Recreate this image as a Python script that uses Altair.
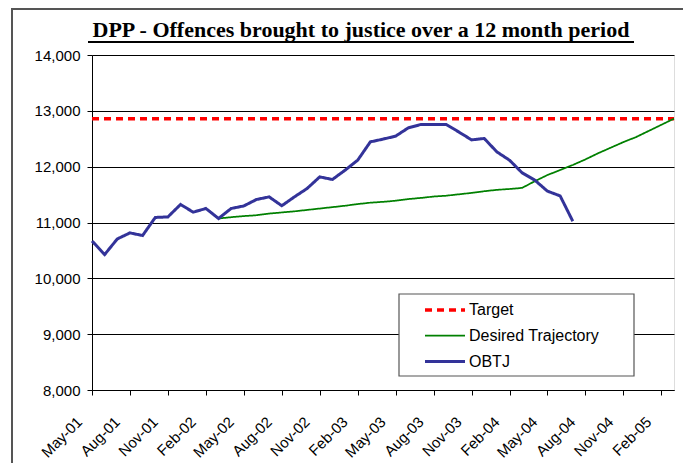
import altair as alt
import pandas as pd

# Categories: monthly periods (12-month rolling) from May-01 to Mar-05
months = list(pd.date_range("2001-05-01", periods=47, freq="MS").strftime("%b-%y"))
tick_labels = months[::3]
y_ticks = [8000, 9000, 10000, 11000, 12000, 13000, 14000]

series_order = ["Target", "Desired Trajectory", "OBTJ"]
series_colors = ["#FF0000", "#008000", "#333399"]

title_text = "DPP - Offences brought to justice over a 12 month period"

target_value = 12860

obtj = [10670, 10426, 10706, 10814, 10767, 11090, 11100, 11323, 11185, 11251,
        11072, 11251, 11297, 11412, 11459, 11300, 11459, 11609, 11817, 11770,
        11937, 12116, 12444, 12493, 12547, 12695, 12756, 12756, 12756, 12620,
        12480, 12505, 12265, 12116, 11889, 11758, 11561, 11477, 11023]

desired_start = 10  # Mar-02
desired = [11072, 11095, 11115, 11130, 11160, 11180, 11200, 11225, 11250, 11275,
           11300, 11330, 11355, 11370, 11390, 11420, 11440, 11465, 11480, 11505,
           11530, 11560, 11585, 11600, 11620, 11740, 11850, 11940, 12030, 12130,
           12240, 12340, 12440, 12530, 12640, 12750, 12860]

rows = []
for m in months:
    rows.append({"month": m, "series": "Target", "value": target_value})
for i, v in enumerate(desired):
    rows.append({"month": months[desired_start + i], "series": "Desired Trajectory", "value": v})
for i, v in enumerate(obtj):
    rows.append({"month": months[i], "series": "OBTJ", "value": v})
df = pd.DataFrame(rows)

legend = alt.Legend(
    title=None, orient="none", legendX=331, legendY=243,
    padding=0, rowPadding=6.5, symbolType="M-2,0L2,0", symbolSize=400,
    symbolOffset=10, labelOffset=12, labelFont="Liberation Sans",
    labelFontSize=16, labelColor="black",
)

lines = alt.Chart(df).mark_line().encode(
    x=alt.X("month:O", sort=months,
            scale=alt.Scale(type="point", padding=0, domain=months),
            axis=alt.Axis(values=tick_labels, labelAngle=-45, labelAlign="right",
                          labelBaseline="middle", labelPadding=24, labelOffset=-13,
                          tickSize=5, tickColor="black", domainColor="black",
                          labelColor="black", labelFont="Liberation Sans",
                          labelFontSize=15, grid=False),
            title=None),
    y=alt.Y("value:Q",
            scale=alt.Scale(domain=[8000, 14000], nice=False, zero=False),
            axis=alt.Axis(values=y_ticks, format=",.0f", grid=True,
                          gridColor="black", gridWidth=1, gridOpacity=1,
                          tickSize=5, tickColor="black", domainColor="black",
                          labelColor="black", labelFont="Liberation Sans",
                          labelFontSize=15, labelPadding=7),
            title=None),
    color=alt.Color("series:N",
                    scale=alt.Scale(domain=series_order, range=series_colors),
                    legend=legend),
    strokeDash=alt.StrokeDash("series:N",
                              scale=alt.Scale(domain=series_order, range=[[7, 5], [1, 0], [1, 0]]),
                              legend=legend),
    strokeWidth=alt.StrokeWidth("series:N",
                                scale=alt.Scale(type="ordinal", domain=series_order, range=[3.5, 1.75, 3]),
                                legend=legend),
)

one = alt.Data(values=[{}])

# decorative outer frame (left and top edges visible in reference)
frame_left = alt.Chart(one).mark_rule(color="#555555", strokeWidth=2).encode(
    x=alt.value(-80), y=alt.value(-46), y2=alt.value(420))
frame_top = alt.Chart(one).mark_rule(color="#555555", strokeWidth=2).encode(
    x=alt.value(-81), x2=alt.value(620), y=alt.value(-46))

# legend box
legend_box = alt.Chart(one).mark_rect(
    fill="white", stroke="#555555", strokeWidth=1.2
).encode(x=alt.value(307), x2=alt.value(542), y=alt.value(239), y2=alt.value(321))

title = alt.Chart(one).mark_text(
    text=title_text, font="Liberation Serif", fontSize=22, fontWeight="bold",
    color="black", align="center", baseline="alphabetic"
).encode(x=alt.value(269), y=alt.value(-18))

underline = alt.Chart(one).mark_rule(color="black", strokeWidth=2).encode(
    x=alt.value(-4), x2=alt.value(542), y=alt.value(-13))

chart = alt.layer(frame_left, frame_top, lines, legend_box, title, underline).properties(
    width=582, height=335,
    autosize=alt.AutoSizeParams(type="none"),
    padding={"left": 84, "top": 47, "right": 9, "bottom": 73},
).configure_view(stroke="#808080", strokeWidth=1).configure(background="white")

chart.save("out.html", embed_options={"renderer": "svg", "actions": False})
